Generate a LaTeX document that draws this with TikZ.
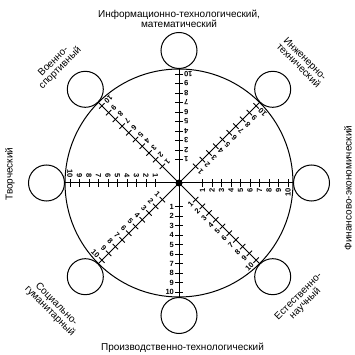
\documentclass[tikz,border=0pt]{standalone}
\usepackage{fontspec}
\setmainfont{Liberation Sans}
\begin{document}
\begin{tikzpicture}[x=1pt,y=1pt,line width=1pt,
  lbl/.style={font=\fontsize{10}{9.5}\selectfont,align=center,inner sep=0pt},
  num/.style={font=\fontsize{7.5}{7.5}\selectfont\bfseries,inner sep=0pt,anchor=east},
  ring/.style={draw,circle,minimum size=36pt,inner sep=0pt},
  tickline/.style={line width=0.9pt}]
\useasboundingbox (-179,-172) rectangle (175,183);
\node[draw,circle,minimum size=228pt,inner sep=0pt] (big) at (0,0) {};
\node[circle,fill,minimum size=7pt,inner sep=0pt] (c) at (0,0) {};
\foreach \a/\n in {90/t,45/tr,0/r,-45/br,-90/b,-135/bl,180/l,135/tl} {
  \node[ring] (s\n) at (\a:132.5) {};
  \draw (c.center) -- (big.\a);
  \begin{scope}[rotate=\a]
    \foreach \k in {1,...,10} {
      \pgfmathsetmacro{\d}{14+9.5*\k}
      \draw[tickline] (\d,-3.8) -- (\d,3.8);
      \node[num,rotate=\a+90] at (\d,-4.6) {\k};
    }
  \end{scope}
}
\node[lbl] (lt) at (0,164) {Информационно-технологический,\\математический};
\node[lbl] (lb) at (3.5,-165) {Производственно-технологический};
\node[lbl,rotate=45] (ltl) at (-122,118) {Военно-\\спортивный};
\node[lbl,rotate=-45] (ltr) at (123,121) {Инженерно-\\технический};
\node[lbl,rotate=-45] (lbl) at (-126,-125) {Социально-\\гуманитарный};
\node[lbl,rotate=45] (lbr) at (123,-117) {Естественно-\\научный};
\node[lbl,rotate=90] (ll) at (-169,9) {Творческий};
\node[lbl,rotate=90] (lr) at (169,-5) {Финансово-экономический};
\end{tikzpicture}
\end{document}
